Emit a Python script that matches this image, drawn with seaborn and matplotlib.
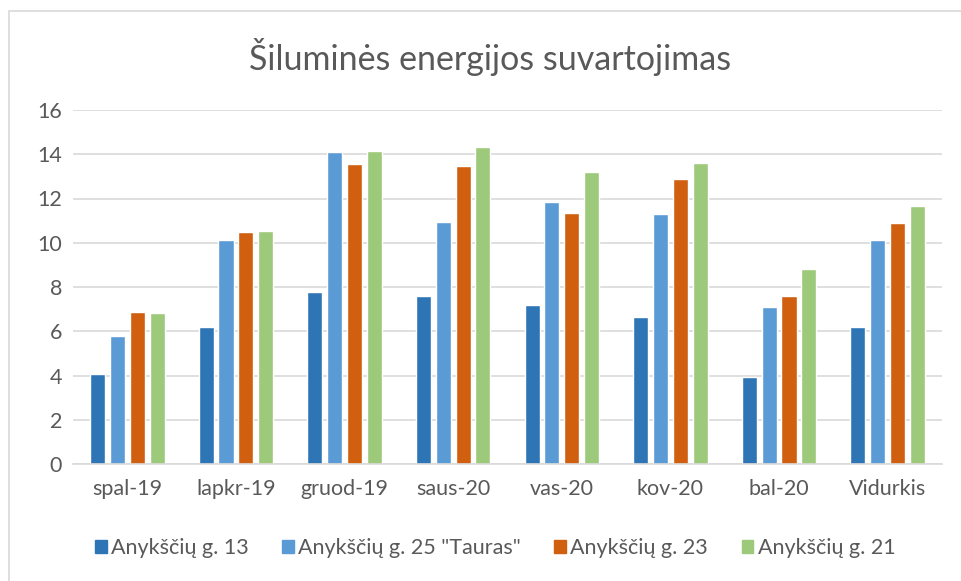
import numpy as np
import pandas as pd
import matplotlib
matplotlib.use("Agg")
import matplotlib.pyplot as plt
import seaborn as sns
from matplotlib.patches import Rectangle

months = ["spal-19", "lapkr-19", "gruod-19", "saus-20", "vas-20", "kov-20", "bal-20", "Vidurkis"]
series = ["Anykščių g. 13", "Anykščių g. 25 \"Tauras\"", "Anykščių g. 23", "Anykščių g. 21"]
g13 = [4.07, 6.2, 7.77, 7.59, 7.18, 6.66, 3.95, 6.2]
g25 = [5.8, 10.14, 14.08, 10.95, 11.82, 11.3, 7.08, 10.14]
g23 = [6.85, 10.48, 13.57, 13.49, 11.34, 12.88, 7.59, 10.89]
g21 = [6.84, 10.54, 14.14, 14.31, 13.21, 13.61, 8.81, 11.64]
colors = ["#2E75B6", "#5B9BD5", "#D0600F", "#9DC97A"]

df = pd.DataFrame({"month": months * 4,
                   "series": sum([[s] * len(months) for s in series], []),
                   "value": g13 + g25 + g23 + g21})

sns.set_style("white")
plt.rcParams['font.family'] = ['Lato', 'DejaVu Sans']
text_color = "#595959"

fig = plt.figure(figsize=(9.61, 5.81), dpi=100)
fig.patches.append(Rectangle((9 / 961, -0.1), 1.1, 1 - 11 / 581 + 0.1, transform=fig.transFigure,
                             fill=False, edgecolor="#D9D9D9", linewidth=1.2))
ax = fig.add_axes([73 / 961, (581 - 464) / 581, (942 - 73) / 961, (464 - 110) / 581])

sns.barplot(data=df, x="month", y="value", hue="series", palette=colors,
            width=0.73, gap=0.24, ax=ax, legend=False, saturation=1)

ax.set_ylim(0, 16)
ax.set_xlim(-0.5, 7.5)
ax.set_yticks(np.arange(0, 17, 2))
ax.yaxis.grid(True, color="#D9D9D9", linewidth=1.2)
ax.set_axisbelow(True)
for s in ["left", "right", "top"]:
    ax.spines[s].set_visible(False)
ax.spines["bottom"].set_color("#D9D9D9")
ax.spines["bottom"].set_linewidth(1.2)
ax.tick_params(axis="both", length=0, labelsize=15.5, colors=text_color)
ax.tick_params(axis="x", pad=11)
ax.tick_params(axis="y", pad=8)
ax.set_xlabel("")
ax.set_ylabel("")

fig.text(490 / 961, 1 - 57 / 581, "Šiluminės energijos suvartojimas", ha="center", va="center",
         fontsize=24.5, color=text_color)

handles = [Rectangle((0, 0), 1, 1, color=c) for c in colors]
fig.legend(handles, series, loc="center", bbox_to_anchor=(495 / 961, 1 - 548 / 581), ncol=4,
           frameon=False, fontsize=15.5, labelcolor=text_color, handlelength=0.55, handleheight=0.55,
           handletextpad=0.2, columnspacing=1.55)

fig.savefig("out.png", dpi=100, facecolor="white")
